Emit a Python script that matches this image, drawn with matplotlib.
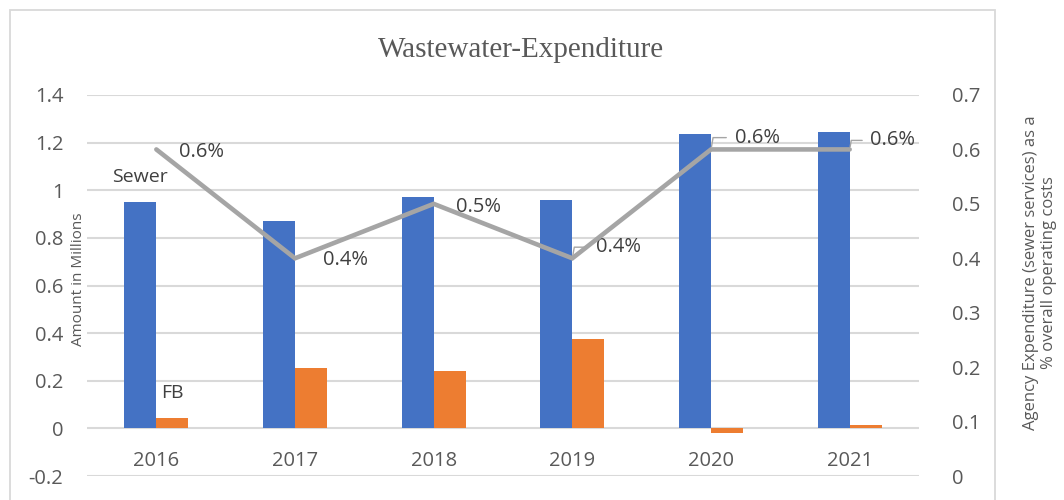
import matplotlib
matplotlib.use("Agg")
import matplotlib.pyplot as plt
from matplotlib.patches import Rectangle
import numpy as np

years = ["2016", "2017", "2018", "2019", "2020", "2021"]
sewer = [0.95, 0.87, 0.97, 0.96, 1.235, 1.245]
fb = [0.043, 0.252, 0.24, 0.374, -0.02, 0.016]
pct = [0.6, 0.4, 0.5, 0.4, 0.6, 0.6]
pct_labels = ["0.6%", "0.4%", "0.5%", "0.4%", "0.6%", "0.6%"]
left_ticks = [-0.2, 0, 0.2, 0.4, 0.6, 0.8, 1, 1.2, 1.4]
right_ticks = [0, 0.1, 0.2, 0.3, 0.4, 0.5, 0.6, 0.7]

BLUE = "#4472C4"
ORANGE = "#ED7D31"
GRAY = "#A5A5A5"
TXT = "#595959"
GRID = "#D9D9D9"
FONT = "Open Sans"

plt.rcParams["font.family"] = [FONT, "DejaVu Sans"]

W, H = 1064, 500
fig = plt.figure(figsize=(W / 100, H / 100), dpi=100)
fig.patch.set_facecolor("white")

# outer chart border
fig.patches.append(Rectangle((10 / W, -0.05), 985 / W, (490 / H) + 0.05,
                             transform=fig.transFigure, fill=False,
                             edgecolor=GRID, linewidth=1.3))

ax = fig.add_axes([87 / W, 1 - 476 / H, (919 - 87) / W, (476 - 95) / H])
ax2 = ax.twinx()

x = np.arange(len(years))
bw = 0.23
ax.bar(x - bw / 2, sewer, bw, color=BLUE, zorder=3)
ax.bar(x + bw / 2, fb, bw, color=ORANGE, zorder=3)

ymin, ymax = -0.2, 1.4
ax.set_ylim(ymin, ymax)
ax.set_xlim(-0.5, len(years) - 0.5)
ax.set_yticks(left_ticks)
ax.set_yticklabels([f"{v:g}" for v in left_ticks])
ax.yaxis.grid(True, color=GRID, linewidth=1.5, zorder=0)
ax.set_axisbelow(True)
for s in ax.spines.values():
    s.set_visible(False)
ax.tick_params(axis="y", length=0, pad=17, labelsize=14.5, labelcolor=TXT)
ax.set_xticks([])

# category labels next to the zero line
sec = ax.secondary_xaxis((0 - ymin) / (ymax - ymin))
sec.set_xticks(x)
sec.set_xticklabels(years)
sec.tick_params(length=0, pad=16, labelsize=14.5, labelcolor=TXT)
sec.spines["bottom"].set_visible(False)

# series-name labels on the first bars
ax.annotate("Sewer", (x[0] - bw / 2, sewer[0]), xytext=(0, 18),
            textcoords="offset points", ha="center", va="center",
            fontsize=14, color="#404040")
ax.annotate("FB", (x[0] + bw / 2, fb[0]), xytext=(0, 18),
            textcoords="offset points", ha="center", va="center",
            fontsize=14, color="#404040")

# line on secondary axis
ax2.set_ylim(0, 0.7)
ax2.set_yticks(right_ticks)
ax2.set_yticklabels([f"{v:g}" for v in right_ticks])
for s in ax2.spines.values():
    s.set_visible(False)
ax2.tick_params(axis="y", length=0, pad=24, labelsize=14.5, labelcolor=TXT)
ax2.plot(x, pct, color=GRAY, linewidth=3.3, solid_capstyle="round",
         solid_joinstyle="miter", zorder=4)

offsets = [(16, -2), (20, -1.5), (16, -2), (17, 8), (17, 8.5), (15, 6.5)]
leader = [False, False, False, True, True, True]
for xi, v, lab, off, ld in zip(x, pct, pct_labels, offsets, leader):
    kw = {}
    if ld:
        kw["arrowprops"] = dict(arrowstyle="-", color=GRAY, lw=1.0,
                                connectionstyle="angle,angleA=0,angleB=80",
                                relpos=(0, 0.5), shrinkA=4, shrinkB=2)
    ax2.annotate(lab, (xi, v), xytext=off, textcoords="offset points",
                 ha="left", va="center", fontsize=14.5, color="#404040",
                 **kw)

# titles / axis labels
fig.text(521 / W, 1 - 50 / H, "Wastewater-Expenditure", ha="center",
         va="center", fontsize=21, color=TXT,
         family=["Liberation Serif", "DejaVu Serif"])
fig.text(79 / W, 1 - 279 / H, "Amount in Millions", rotation=90,
         ha="center", va="center", fontsize=11, color=TXT)
fig.text(1040 / W, 1 - 273 / H,
         "Agency Expenditure (sewer services) as a\n% overall operating costs",
         rotation=90, ha="center", va="center", fontsize=12, color=TXT,
         multialignment="center", linespacing=1.1)

fig.savefig("out.png", dpi=100)
